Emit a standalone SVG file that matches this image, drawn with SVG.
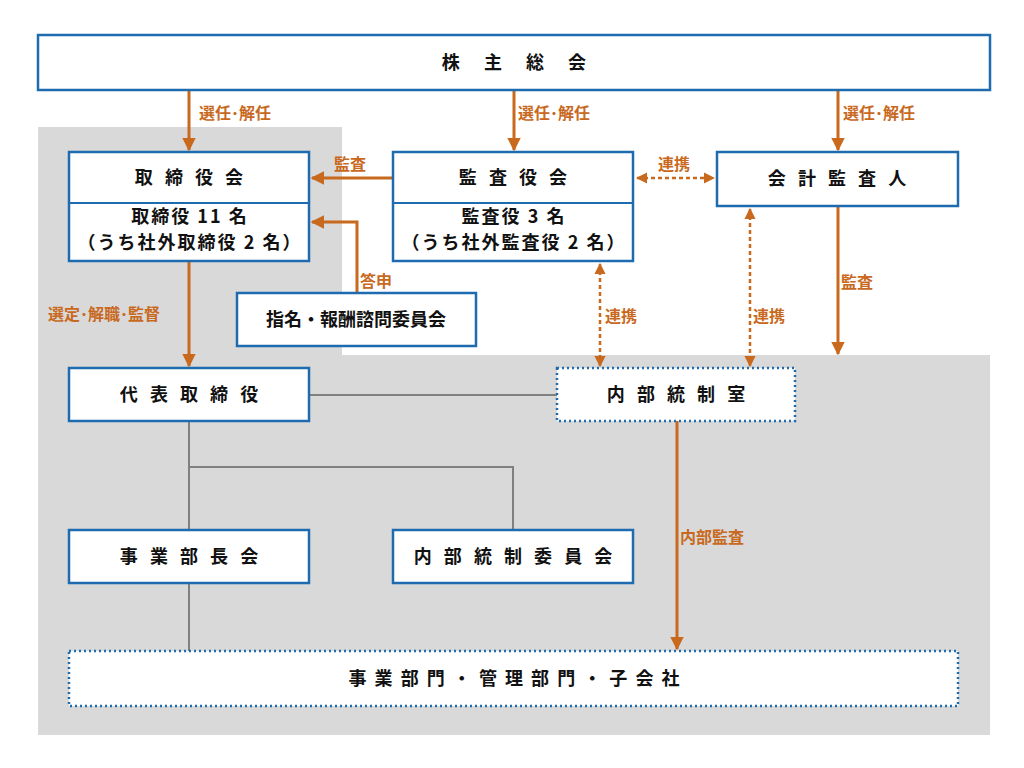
<svg xmlns="http://www.w3.org/2000/svg" width="1024" height="768" viewBox="0 0 1024 768">
<style>
.b{fill:#fff;stroke:#1f6bb0;stroke-width:2.5}
.d{fill:#fff;stroke:#1f6bb0;stroke-width:2.5;stroke-dasharray:2 3}
.t{font-family:"Noto Sans CJK JP","Noto Sans",sans-serif;font-weight:bold;font-size:18px;fill:#111;text-anchor:middle}
.w{letter-spacing:4px}
.wt{letter-spacing:10px}
.w2{letter-spacing:2px}
.w3{letter-spacing:4px}
.w4{letter-spacing:2px}
.l{font-family:"Noto Sans CJK JP","Noto Sans",sans-serif;font-weight:bold;font-size:16px;fill:#c8691e}
.a{stroke:#c8691e;stroke-width:3;fill:none}
.ad{stroke:#c8691e;stroke-width:2.5;fill:none;stroke-dasharray:4 3}
.g{stroke:#808080;stroke-width:2;fill:none}
</style>
<defs>
<marker id="ah" viewBox="0 0 10 10" refX="9" refY="5" markerWidth="4.5" markerHeight="4.5" orient="auto-start-reverse"><path d="M0,0L10,5L0,10z" fill="#c8691e"/></marker>
</defs>
<polygon points="38,127 342,127 342,355 990,355 990,735 38,735" fill="#d9d9d9"/>
<g id="connectors">
<line class="g" x1="309" y1="395" x2="557" y2="395"/>
<line class="g" x1="189" y1="421" x2="189" y2="530"/>
<polyline class="g" points="189,467 513,467 513,530"/>
<line class="g" x1="189" y1="583" x2="189" y2="651"/>
<line class="a" x1="189" y1="90" x2="189" y2="150" marker-end="url(#ah)"/>
<line class="a" x1="514" y1="90" x2="514" y2="150" marker-end="url(#ah)"/>
<line class="a" x1="838" y1="90" x2="838" y2="150" marker-end="url(#ah)"/>
<line class="a" x1="393" y1="178" x2="312" y2="178" marker-end="url(#ah)"/>
<polyline class="a" points="357,293 357,222 312,222" marker-end="url(#ah)"/>
<line class="a" x1="189" y1="261" x2="189" y2="366" marker-end="url(#ah)"/>
<line class="ad" x1="637" y1="178" x2="714" y2="178" marker-start="url(#ah)" marker-end="url(#ah)"/>
<line class="ad" x1="600" y1="264" x2="600" y2="366" marker-start="url(#ah)" marker-end="url(#ah)"/>
<line class="ad" x1="750" y1="209" x2="750" y2="366" marker-start="url(#ah)" marker-end="url(#ah)"/>
<line class="a" x1="838" y1="206" x2="838" y2="354" marker-end="url(#ah)"/>
<line class="a" x1="677" y1="421" x2="677" y2="649" marker-end="url(#ah)"/>
<text class="l" x="199" y="119">選任･解任</text>
<text class="l" x="518" y="119">選任･解任</text>
<text class="l" x="843" y="119">選任･解任</text>
<text class="l" x="334" y="170">監査</text>
<text class="l" x="360" y="287">答申</text>
<text class="l" x="48" y="320">選定･解職･監督</text>
<text class="l" x="658" y="170">連携</text>
<text class="l" x="605" y="322">連携</text>
<text class="l" x="753" y="322">連携</text>
<text class="l" x="841" y="288">監査</text>
<text class="l" x="680" y="543">内部監査</text>
</g>
<g id="n1"><rect class="b" x="38" y="35" width="952" height="55"/><text class="t wt" x="519" y="69">株 主 総 会</text></g>
<g id="n2"><rect class="b" x="69" y="152" width="240" height="109"/><line x1="69" y1="203" x2="309" y2="203" stroke="#1f6bb0" stroke-width="2"/><text class="t w" x="191" y="184">取 締 役 会</text><text class="t w2" x="190" y="223">取締役 11 名</text><text class="t w2" x="190" y="249">（うち社外取締役 2 名）</text></g>
<g id="n3"><rect class="b" x="393" y="152" width="240" height="109"/><line x1="393" y1="203" x2="633" y2="203" stroke="#1f6bb0" stroke-width="2"/><text class="t w" x="515" y="184">監 査 役 会</text><text class="t w2" x="514" y="223">監査役 3 名</text><text class="t w2" x="514" y="249">（うち社外監査役 2 名）</text></g>
<g id="n4"><rect class="b" x="717" y="152" width="241" height="54"/><text class="t w" x="839" y="185">会 計 監 査 人</text></g>
<g id="n5"><rect class="b" x="237" y="293" width="239" height="53"/><text class="t" x="356" y="326">指名・報酬諮問委員会</text></g>
<g id="n6"><rect class="b" x="69" y="368" width="240" height="53"/><text class="t w" x="191" y="401">代 表 取 締 役</text></g>
<g id="n7"><rect class="d" x="557" y="368" width="238" height="53"/><text class="t w" x="678" y="401">内 部 統 制 室</text></g>
<g id="n8"><rect class="b" x="69" y="530" width="240" height="53"/><text class="t w" x="191" y="563">事 業 部 長 会</text></g>
<g id="n9"><rect class="b" x="393" y="530" width="240" height="53"/><text class="t w3" x="515" y="563">内 部 統 制 委 員 会</text></g>
<g id="n10"><rect class="d" x="69" y="651" width="889" height="55"/><text class="t w4" x="515" y="685">事 業 部 門 ・ 管 理 部 門 ・ 子 会 社</text></g>
</svg>
